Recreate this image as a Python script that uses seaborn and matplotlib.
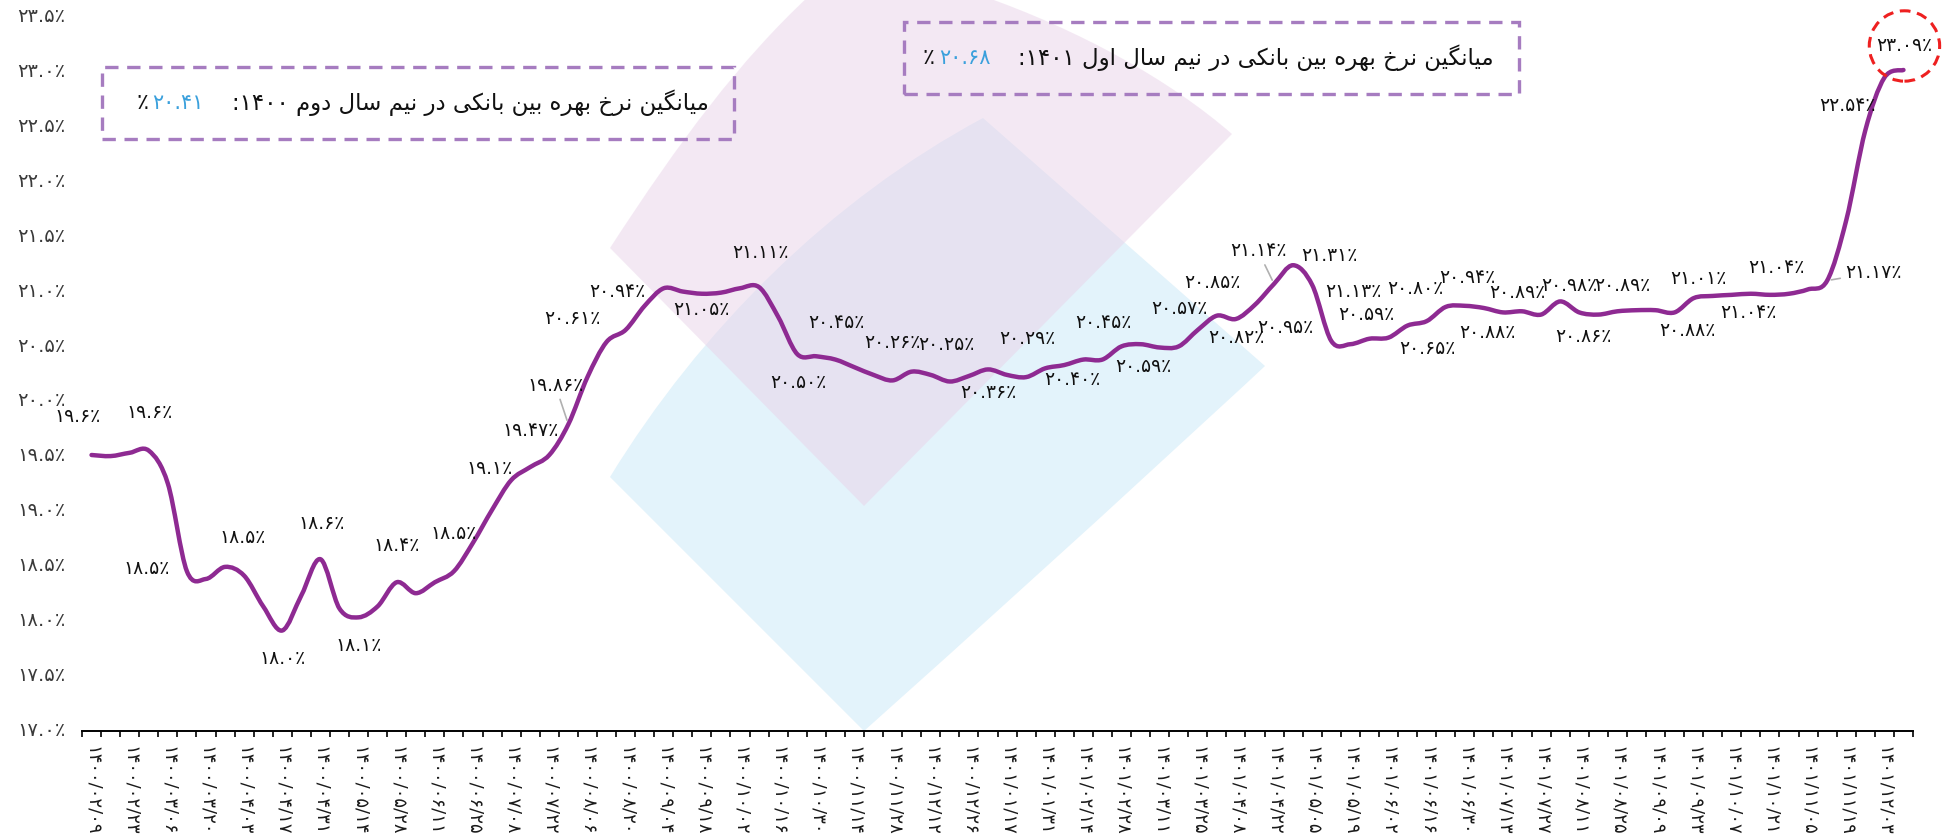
import matplotlib
matplotlib.use('Agg')
import matplotlib.pyplot as plt
import matplotlib.patches as mpatches
import matplotlib.transforms as mtransforms
from matplotlib.path import Path
import numpy as np
import seaborn as sns

# weekly interbank rate (percent)
rates = [19.58, 19.57, 19.60, 19.62, 19.32, 18.52, 18.45, 18.56, 18.48, 18.20,
         17.98, 18.30, 18.63, 18.18, 18.10, 18.20, 18.42, 18.32, 18.42, 18.52,
         18.78, 19.08, 19.35, 19.47, 19.58, 19.86, 20.29, 20.61, 20.72, 20.94,
         21.10, 21.07, 21.05, 21.06, 21.10, 21.11, 20.84, 20.50, 20.48, 20.45,
         20.38, 20.31, 20.26, 20.34, 20.31, 20.25, 20.30, 20.36, 20.31, 20.29,
         20.37, 20.40, 20.45, 20.45, 20.57, 20.59, 20.56, 20.57, 20.72, 20.85,
         20.82, 20.95, 21.14, 21.31, 21.13, 20.62, 20.59, 20.64, 20.65, 20.76,
         20.80, 20.93, 20.94, 20.92, 20.88, 20.89, 20.86, 20.98, 20.88, 20.86,
         20.89, 20.90, 20.90, 20.88, 21.01, 21.03, 21.04, 21.05, 21.04, 21.05,
         21.09, 21.17, 21.72, 22.54, 23.02, 23.09]

# dates shown under every second week
tick_dates = ['1400/02/09', '1400/02/23', '1400/03/06', '1400/03/20', '1400/04/03',
              '1400/04/17', '1400/04/31', '1400/05/14', '1400/05/28', '1400/06/11',
              '1400/06/25', '1400/07/08', '1400/07/22', '1400/08/06', '1400/08/20',
              '1400/09/04', '1400/09/18', '1400/10/02', '1400/10/16', '1400/10/30',
              '1400/11/14', '1400/11/28', '1400/12/12', '1400/12/26', '1401/01/17',
              '1401/01/31', '1401/02/14', '1401/02/28', '1401/03/11', '1401/03/25',
              '1401/04/08', '1401/04/22', '1401/05/05', '1401/05/19', '1401/06/02',
              '1401/06/16', '1401/06/30', '1401/07/13', '1401/07/27', '1401/08/11',
              '1401/08/25', '1401/09/09', '1401/09/23', '1401/10/07', '1401/10/21',
              '1401/11/05', '1401/11/19', '1401/12/03']

# data labels: which week and the printed value
label_weeks = [0, 3, 5, 7, 10, 12, 14, 16, 19, 21, 23, 25, 27, 29, 32, 35, 37, 39,
               42, 45, 47, 49, 51, 53, 55, 57, 59, 60, 62, 61, 63, 64, 66, 68, 70,
               72, 74, 75, 77, 79, 80, 83, 84, 86, 88, 91, 93, 95]
label_texts = ['19.6', '19.6', '18.5', '18.5', '18.0', '18.6', '18.1', '18.4', '18.5',
               '19.1', '19.47', '19.86', '20.61', '20.94', '21.05', '21.11', '20.50',
               '20.45', '20.26', '20.25', '20.36', '20.29', '20.40', '20.45', '20.59',
               '20.57', '20.85', '20.82', '21.14', '20.95', '21.31', '21.13', '20.59',
               '20.65', '20.80', '20.94', '20.88', '20.89', '20.98', '20.86', '20.89',
               '20.88', '21.01', '21.04', '21.04', '21.17', '22.54', '23.09']

half_avg = ['20.41', '20.68']

# label placement (pixels, +y = down) -- layout only
label_offsets = [(-14, -38), (1, -38), (-40, -3), (18, -29), (0, 28), (1, -36), (0, 28),
                 (0, -37), (0, -38), (-2, -41), (0, -37), (-13, -39), (-34, -24),
                 (-27, -14), (0, 16), (1, -35), (1, 28), (1, -37), (0, -38), (-3, -37),
                 (0, 23), (1, -39), (8, 14), (1, -37), (3, 22), (1, -38), (-4, -33),
                 (0, 19), (-16, -33), (30, 23), (36, -10), (41, 7), (16, -30), (39, 11),
                 (-11, -33), (3, -28), (-16, 20), (-5, -19), (9, -16), (-15, 22),
                 (5, -26), (13, 18), (5, -20), (17, 18), (6, -27), (46, -8), (-18, -25),
                 (1, -24)]
leader_weeks = [25, 62, 91]

FA = str.maketrans('0123456789', '۰۱۲۳۴۵۶۷۸۹')


def fa(s):
    return s.translate(FA)


# minimal persian shaping (matplotlib has no bidi/shaping)
FORMS = {
    'ا': ('\uFE8D', '\uFE8E', None, None),
    'ب': ('\uFE8F', '\uFE90', '\uFE91', '\uFE92'),
    'خ': ('\uFEA5', '\uFEA6', '\uFEA7', '\uFEA8'),
    'د': ('\uFEA9', '\uFEAA', None, None),
    'ر': ('\uFEAD', '\uFEAE', None, None),
    'س': ('\uFEB1', '\uFEB2', '\uFEB3', '\uFEB4'),
    'ل': ('\uFEDD', '\uFEDE', '\uFEDF', '\uFEE0'),
    'م': ('\uFEE1', '\uFEE2', '\uFEE3', '\uFEE4'),
    'ن': ('\uFEE5', '\uFEE6', '\uFEE7', '\uFEE8'),
    'ه': ('\uFEE9', '\uFEEA', '\uFEEB', '\uFEEC'),
    'و': ('\uFEED', '\uFEEE', None, None),
    'ی': ('\uFBFC', '\uFBFD', '\uFBFE', '\uFBFF'),
    'ک': ('\uFB8E', '\uFB8F', '\uFB90', '\uFB91'),
    'گ': ('\uFB92', '\uFB93', '\uFB94', '\uFB95'),
}


def joins_left(c):
    return c in FORMS and FORMS[c][2] is not None


def rtl(text):
    out = []
    i = 0
    while i < len(text):
        c = text[i]
        if c not in FORMS:
            out.append(c)
            i += 1
            continue
        prev = i > 0 and joins_left(text[i - 1])
        if c == 'ل' and i + 1 < len(text) and text[i + 1] == 'ا':
            out.append('\uFEFC' if prev else '\uFEFB')
            i += 2
            continue
        nxt = joins_left(c) and i + 1 < len(text) and text[i + 1] in FORMS
        iso, fin, ini, med = FORMS[c]
        out.append(med if prev and nxt else fin if prev else ini if nxt else iso)
        i += 1
    return ''.join(out)[::-1]


sns.set_theme(style='white')
plt.rcParams['font.family'] = ['DejaVu Sans']

W, H = 1944, 835
fig = plt.figure(figsize=(W / 100, H / 100), dpi=100)
ax = fig.add_axes([82 / W, 1 - 738 / H, (1913 - 82) / W, (738 - 25) / H])
ax.patch.set_alpha(0)


def fx(x, y):
    return (x / W, 1 - y / H)


# faint logo in the background
blue_pts = [fx(610, 477), fx(700, 330), fx(830, 200), fx(983, 118),
            fx(1265, 366), fx(1265, 366), fx(1100, 520), fx(864, 731), fx(610, 477)]
blue_codes = [Path.MOVETO, Path.CURVE4, Path.CURVE4, Path.CURVE4,
              Path.LINETO, Path.CURVE4, Path.CURVE4, Path.CURVE4, Path.CLOSEPOLY]
pink_pts = [fx(610, 248), fx(680, 140), fx(740, 60), fx(810, -5),
            fx(980, -5), fx(1080, 30), fx(1170, 80), fx(1232, 134),
            fx(864, 506), fx(610, 248)]
pink_codes = [Path.MOVETO, Path.CURVE4, Path.CURVE4, Path.CURVE4,
              Path.LINETO, Path.CURVE4, Path.CURVE4, Path.CURVE4,
              Path.LINETO, Path.CLOSEPOLY]
for pts, codes, col, a in [(blue_pts, blue_codes, '#e3f3fb', 1.0),
                           (pink_pts, pink_codes, '#e9d3e9', 0.5)]:
    p = mpatches.PathPatch(Path(pts, codes), facecolor=col, edgecolor='none', alpha=a,
                           transform=fig.transFigure, zorder=0, clip_on=False)
    ax.add_patch(p)

weeks = np.arange(len(rates))
sns.lineplot(x=weeks, y=rates, ax=ax, color='#8e2a92', linewidth=3.2, zorder=3)

# redraw the seaborn line as a smoothed curve (like a "smoothed line" chart)
line = ax.lines[0]
xy = line.get_xydata()
line.set_visible(False)
verts, codes = [xy[0]], [Path.MOVETO]
n = len(xy)
for i in range(n - 1):
    p0, p1, p2, p3 = xy[max(i - 1, 0)], xy[i], xy[i + 1], xy[min(i + 2, n - 1)]
    verts += [p1 + (p2 - p0) / 6, p2 - (p3 - p1) / 6, p2]
    codes += [Path.CURVE4] * 3
ax.add_patch(mpatches.PathPatch(Path(verts, codes), fill=False, ec=line.get_color(),
                                lw=line.get_linewidth(), capstyle='round',
                                joinstyle='round', zorder=3))

ax.set_xlim(-0.5, len(rates) - 0.5)
ax.set_ylim(17, 23.5)

# y axis
yt = np.arange(17, 23.51, 0.5)
ax.set_yticks(yt)
ax.set_yticklabels([fa(f'{v:.1f}') + '٪' for v in yt])
ax.tick_params(axis='y', length=0, pad=12, labelsize=14, labelcolor='#3a3a3a')
shift = mtransforms.ScaledTranslation(0, 10 / 100, fig.dpi_scale_trans)
for lab in ax.get_yticklabels():
    lab.set_transform(lab.get_transform() + shift)

# x axis
ax.set_xticks(weeks[::2])
ax.set_xticklabels([fa(d) for d in tick_dates])
ax.set_xticks(np.arange(-0.5, len(rates), 1), minor=True)
ax.tick_params(axis='x', which='major', length=0, pad=11, labelrotation=-90,
               labelsize=13, labelcolor='#1a1a1a')
ax.tick_params(axis='x', which='minor', length=4.5, width=1.2, color='black',
               direction='out', bottom=True)
for s in ['top', 'right', 'left']:
    ax.spines[s].set_visible(False)
ax.spines['bottom'].set_color('black')
ax.spines['bottom'].set_linewidth(1.4)
ax.spines['bottom'].set_position(('outward', -5))
ax.grid(False)
ax.set_xlabel('')
ax.set_ylabel('')

# data labels
for k, txt, (dx, dy) in zip(label_weeks, label_texts, label_offsets):
    kw = {}
    if k in leader_weeks:
        kw['arrowprops'] = dict(arrowstyle='-', color='#b0b0b0', lw=1.2,
                                shrinkA=1, shrinkB=3)
    if k == len(rates) - 1:
        kw['bbox'] = dict(boxstyle='circle,pad=0.38', fc='none', ec='#ee2020',
                          lw=2.2, ls=(0, (3.5, 2.2)))
    ax.annotate(fa(txt) + '٪', xy=(k, rates[k]), xytext=(dx, -dy),
                textcoords='offset pixels', ha='center', va='center',
                fontsize=13.5, color='#111111', zorder=5, annotation_clip=False, **kw)

# half-year average boxes
boxes = [((102, 67, 734, 139), 'میانگین نرخ بهره بین بانکی در نیم سال دوم', '1400', half_avg[0]),
         ((904, 22, 1519, 94), 'میانگین نرخ بهره بین بانکی در نیم سال اول', '1401', half_avg[1])]
for (x0, y0, x1, y1), phrase, year, val in boxes:
    fig.patches.append(mpatches.Rectangle(fx(x0, y1), (x1 - x0) / W, (y1 - y0) / H,
                                          transform=fig.transFigure, fill=False,
                                          ec='#a67cc0', lw=2.4, ls=(0, (4, 2.6))))
    t1 = fig.text((x1 - 25) / W, 1 - (y0 + y1) / 2 / H, ':' + fa(year) + ' ' + rtl(phrase),
                  ha='right', va='center', fontsize=16.5, color='#111111')
    t2 = ax.annotate(fa(val), xy=(0, 0.5), xycoords=t1, xytext=(-28, 0),
                     textcoords='offset pixels', ha='right', va='center',
                     fontsize=15, color='#3aa0dc', annotation_clip=False)
    ax.annotate('٪', xy=(0, 0.5), xycoords=t2, xytext=(-4, 0),
                textcoords='offset pixels', ha='right', va='center',
                fontsize=16, color='#111111', annotation_clip=False)

fig.savefig('out.png', dpi=100)
